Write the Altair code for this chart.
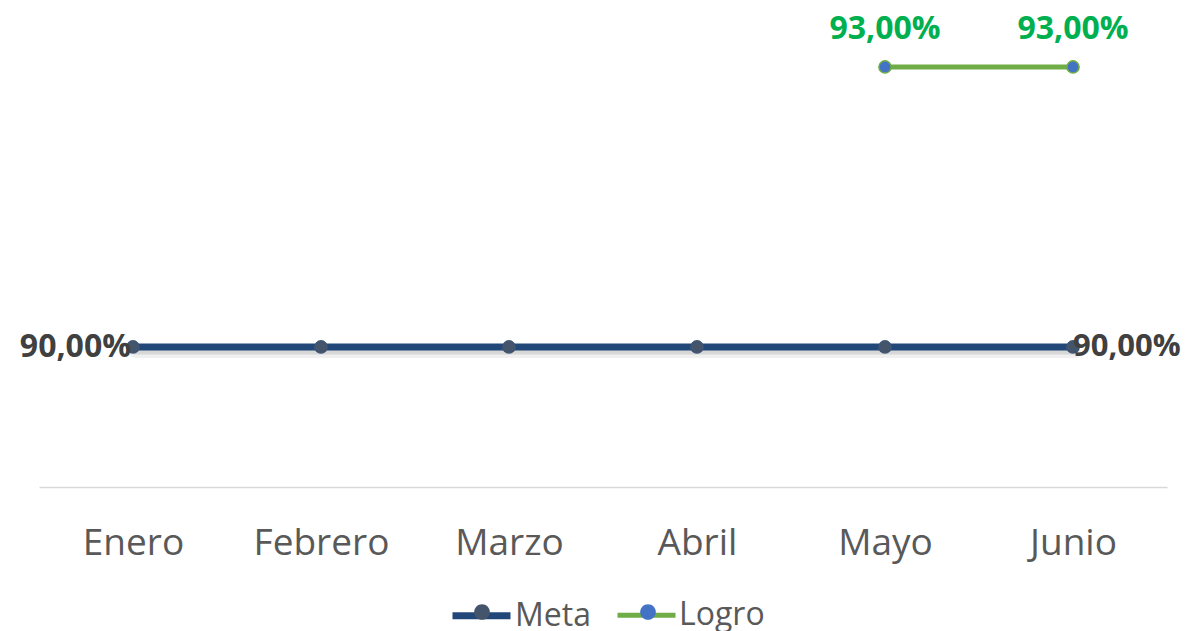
import altair as alt
import pandas as pd

months = ["Enero", "Febrero", "Marzo", "Abril", "Mayo", "Junio"]
meta = [90, 90, 90, 90, 90, 90]
logro = [None, None, None, None, 93, 93]
series_names = ["Meta", "Logro"]
line_colors = ["#22487A", "#70AD47"]
line_widths = [7, 5]
point_fills = ["#44546A", "#4472C4"]
point_strokes = ["#3F5573", "#70AD47"]

rows = []
for m, v in zip(months, meta):
    rows.append({"month": m, "series": "Meta", "series_f": "Meta", "value": v})
for m, v in zip(months, logro):
    if v is not None:
        rows.append({"month": m, "series": "Logro", "series_f": "Logro", "value": v})
df = pd.DataFrame(rows)

FONT = "Open Sans"

x_enc = alt.X("month:N", sort=months,
              axis=alt.Axis(title=None, labelAngle=0, ticks=False, domainColor="#D9D9D9",
                            domainWidth=1.5, labelFont=FONT, labelFontSize=37,
                            labelColor="#595959", labelPadding=38, grid=False))
y_enc = alt.Y("value:Q", axis=None,
              scale=alt.Scale(domain=[88.5, 93.632], nice=False, zero=False))

line_legend = alt.Legend(
    title=None, orient="none", legendX=410, legendY=575, direction="horizontal",
    symbolType="M-1,0H1", symbolSize=3364, labelFont=FONT, labelFontSize=32,
    labelColor="#595959", labelOffset=1, columnPadding=16,
)
point_legend = alt.Legend(
    title=None, orient="none", legendX=414, legendY=575, direction="horizontal",
    symbolType="M-1,0M1,0M0.27,0A0.27,0.27,0,1,1,-0.27,0A0.27,0.27,0,1,1,0.27,0Z",
    symbolSize=3364, symbolStrokeWidth=0, labelExpr="''", labelFontSize=32,
    labelOffset=5, columnPadding=103,
)

base = alt.Chart(df)
meta_only = base.transform_filter("datum.series == 'Meta'")

shadow_wide = meta_only.mark_line(
    strokeCap="round", color="#000000", opacity=0.06, strokeWidth=12, yOffset=5, xOffset=2
).encode(x=x_enc, y=y_enc)
shadow_core = meta_only.mark_line(
    strokeCap="round", color="#000000", opacity=0.10, strokeWidth=7, yOffset=4, xOffset=2
).encode(x=x_enc, y=y_enc)

lines = base.mark_line(strokeCap="round").encode(
    x=x_enc, y=y_enc,
    color=alt.Color("series:N", scale=alt.Scale(domain=series_names, range=line_colors),
                    legend=line_legend),
    strokeWidth=alt.StrokeWidth("series:N", scale=alt.Scale(domain=series_names, range=line_widths),
                                legend=line_legend),
)

points = base.mark_point(filled=True, size=150, strokeWidth=1.5, opacity=1).encode(
    x=x_enc, y=y_enc,
    fill=alt.Fill("series_f:N", sort=series_names, scale=alt.Scale(range=point_fills),
                  legend=point_legend),
    stroke=alt.Stroke("series_f:N", sort=series_names, scale=alt.Scale(range=point_strokes),
                      legend=None),
)

label_expr = "replace(format(datum.value, '.2f'), '.', ',') + '%'"

meta_left = base.transform_filter(
    "datum.series == 'Meta' && datum.month == 'Enero'"
).transform_calculate(lbl=label_expr).mark_text(
    align="right", baseline="middle", dx=-2, font=FONT, fontSize=32, fontWeight="bold",
    color="#404040"
).encode(x=x_enc, y=y_enc, text="lbl:N")

meta_right = base.transform_filter(
    "datum.series == 'Meta' && datum.month == 'Junio'"
).transform_calculate(lbl=label_expr).mark_text(
    align="left", baseline="middle", dx=0, font=FONT, fontSize=31, fontWeight="bold",
    color="#404040"
).encode(x=x_enc, y=y_enc, text="lbl:N")

logro_lbl = base.transform_filter(
    "datum.series == 'Logro'"
).transform_calculate(lbl=label_expr).mark_text(
    align="center", baseline="middle", dy=-38, font=FONT, fontSize=32, fontWeight="bold",
    color="#00B050"
).encode(x=x_enc, y=y_enc, text="lbl:N")

chart = alt.layer(shadow_wide, shadow_core, lines, points, meta_left, meta_right, logro_lbl).properties(
    width=1128, height=479,
    autosize=alt.AutoSizeParams(type="none"),
    padding={"left": 31, "top": 0, "right": 18, "bottom": 144},
    background="white",
).configure_view(stroke=None)

chart.save("out.html", embed_options={"renderer": "svg", "actions": False})
